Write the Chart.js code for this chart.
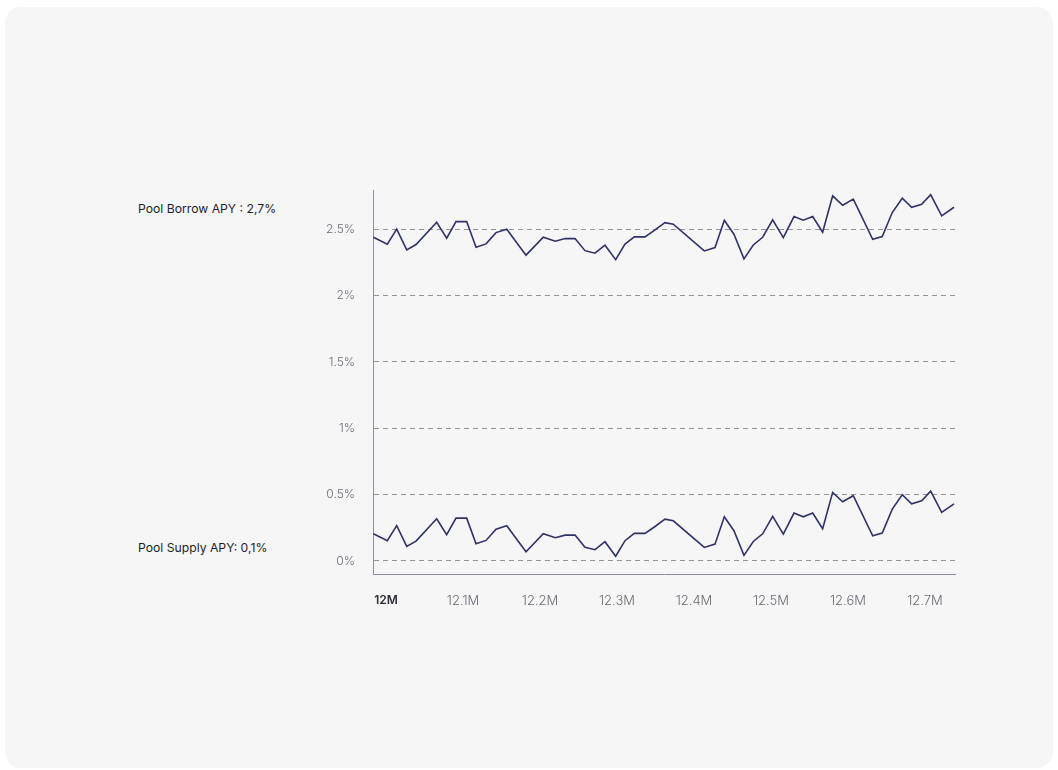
<!DOCTYPE html>
<html>
<head>
<meta charset="utf-8">
<script src="https://cdn.jsdelivr.net/npm/chart.js@4.4.1/dist/chart.umd.min.js"></script>
<style>
  html,body{margin:0;padding:0;background:#fff;font-family:Inter,"Noto Sans",sans-serif}
  .card{position:absolute;left:5px;top:7px;width:1048px;height:761px;background:#f6f6f6;border-radius:16px}
  .lbl{position:absolute;left:138px;font-size:12.2px;color:#1e1e28;white-space:nowrap}
  #wrap{position:absolute;left:0;top:0;width:1058px;height:770px}
</style>
</head>
<body>
<div class="card"></div>
<div class="lbl" style="top:201px">Pool Borrow APY : 2,7%</div>
<div class="lbl" style="top:540px">Pool Supply APY: 0,1%</div>
<div id="wrap"><canvas id="ch"></canvas></div>
<script>
// block number (millions) for each sample
const blocks = [11.9835,12.0017,12.0139,12.0269,12.0390,12.0658,12.0788,12.0909,12.1048,12.1169,
  12.1299,12.1429,12.1568,12.1818,12.2043,12.2199,12.2325,12.2455,12.2584,12.2714,
  12.2844,12.2983,12.3104,12.3225,12.3364,12.3494,12.3623,12.3731,12.4134,12.4273,
  12.4394,12.4519,12.4649,12.4770,12.4892,12.5022,12.5160,12.5299,12.5419,12.5542,
  12.5671,12.5801,12.5931,12.6069,12.6321,12.6445,12.6575,12.6705,12.6827,12.6957,
  12.7074,12.7217,12.7377]
const borrowApy = [2.439,2.387,2.500,2.344,2.384,2.552,2.432,2.557,2.557,2.364,
  2.389,2.474,2.500,2.304,2.439,2.409,2.429,2.429,2.338,2.319,
  2.379,2.270,2.387,2.442,2.442,2.494,2.549,2.537,2.336,2.361,
  2.567,2.462,2.276,2.381,2.439,2.570,2.436,2.595,2.567,2.595,
  2.477,2.751,2.680,2.726,2.424,2.444,2.625,2.733,2.665,2.688,
  2.760,2.600,2.665]
const supplyApy = [0.205,0.153,0.266,0.110,0.150,0.318,0.198,0.323,0.323,0.130,
  0.155,0.240,0.266,0.070,0.205,0.175,0.195,0.195,0.104,0.085,
  0.145,0.036,0.153,0.208,0.208,0.260,0.315,0.303,0.102,0.127,
  0.333,0.228,0.042,0.147,0.205,0.336,0.202,0.361,0.333,0.361,
  0.243,0.517,0.446,0.492,0.190,0.210,0.391,0.499,0.431,0.454,
  0.526,0.366,0.431]
const xTicks = [12.0,12.1,12.2,12.3,12.4,12.5,12.6,12.7]
const yTicks = [0,0.5,1,1.5,2,2.5]

const lineColor = '#2f3266'
const pts = arr => arr.map((v,i)=>({x:blocks[i], y:v}))
const ds = (label, arr) => ({ label, data: pts(arr), borderColor: lineColor, borderWidth: 1.6, pointRadius: 0, tension: 0, fill: false })

new Chart(document.getElementById('ch'), {
  type: 'line',
  data: { datasets: [ ds('Pool Borrow APY', borrowApy), ds('Pool Supply APY', supplyApy) ] },
  options: {
    responsive: true, maintainAspectRatio: false, animation: false,
    layout: { padding: { left: 0, top: 190, right: 103, bottom: 0 } },
    plugins: { legend: { display: false }, tooltip: { enabled: false } },
    scales: {
      x: {
        type: 'linear', min: 11.9831, max: 12.739,
        afterBuildTicks: s => { s.ticks = xTicks.map(v=>({value:v})) },
        afterFit: s => { s.height = 196 },
        grid: { drawOnChartArea: false, drawTicks: false },
        border: { display: true, color: '#8d8ea3', width: 1 },
        ticks: {
          padding: 19, maxRotation: 0, autoSkip: false,
          color: c => c.index === 0 ? '#2c2c3a' : '#6b6b78',
          font: c => ({ family: 'Inter', size: c.index === 0 ? 12 : 13, weight: c.index === 0 ? '600' : '300' }),
          callback: v => (+v.toFixed(1)) + 'M'
        }
      },
      y: {
        min: -0.098, max: 2.795,
        afterBuildTicks: s => { s.ticks = yTicks.map(v=>({value:v})) },
        afterFit: s => { s.width = 373 },
        grid: { color: '#949499', lineWidth: 1, drawTicks: false },
        border: { display: true, color: '#8d8ea3', width: 1, dash: [5, 4] },
        ticks: {
          padding: 18, color: '#6b6b78', font: { family: 'Inter', size: 12, weight: '300' },
          callback: v => v + '%'
        }
      }
    }
  }
})
</script>
</body>
</html>
